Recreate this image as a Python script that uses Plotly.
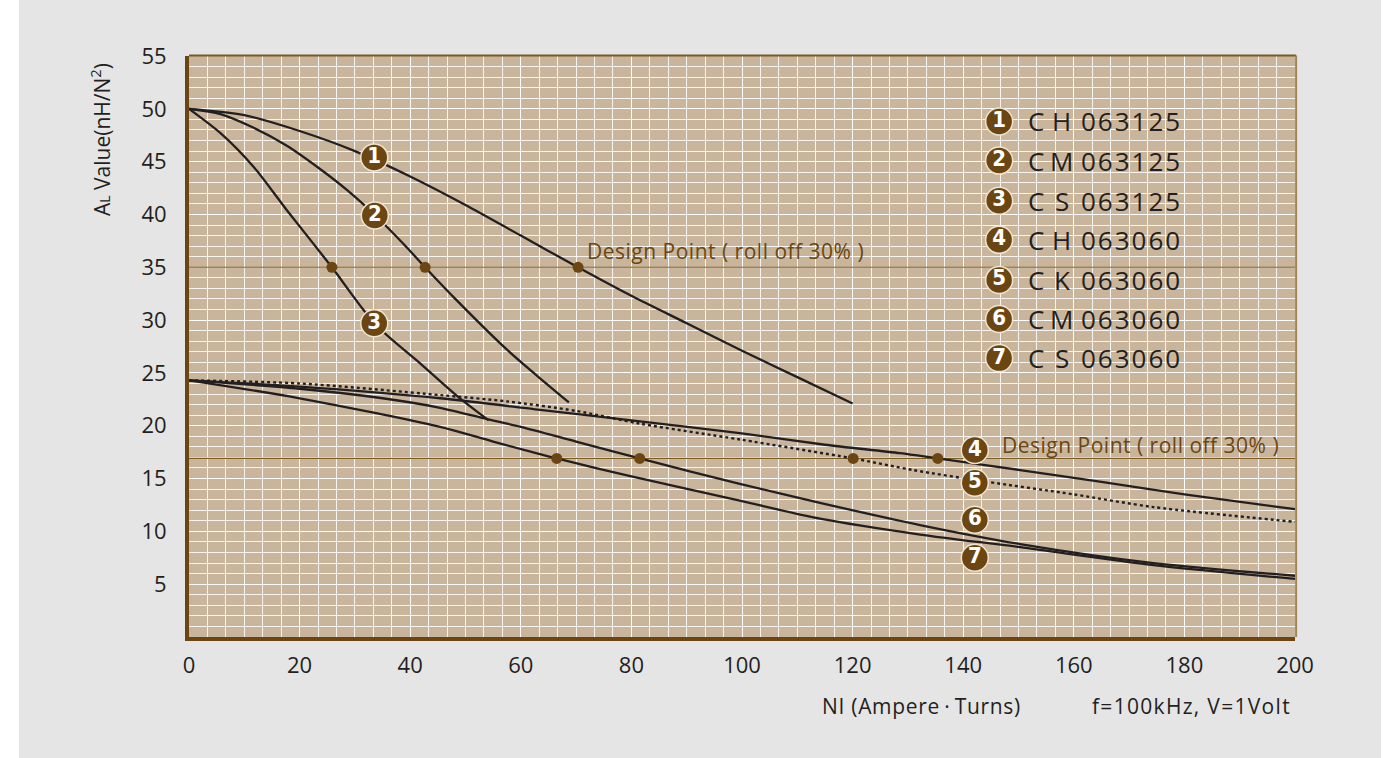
import numpy as np
import plotly.graph_objects as go

# ---------------- data ----------------
c1_x = [0, 10, 20, 30, 40, 50, 60, 70, 80, 90, 100, 110, 120]
c1_y = [50, 49.4, 47.9, 46.0, 43.6, 40.9, 38.0, 35.1, 32.3, 29.7, 27.1, 24.6, 22.1]

c2_x = [0, 5.7, 11.7, 17.7, 23.7, 28.6, 33.7, 38.8, 42.7, 47.8, 57.5, 63, 68.7]
c2_y = [50, 49.5, 48.2, 46.5, 44.3, 42.3, 39.9, 37.2, 35.0, 32.2, 27.2, 24.7, 22.2]

c3_x = [0, 5.7, 11.7, 17.7, 25.7, 33.7, 41.8, 48.5, 54.2]
c3_y = [50, 47.7, 44.5, 40.4, 35.1, 29.6, 25.9, 22.8, 20.5]

c4_x = [0, 20, 45.4, 63.5, 80, 99.6, 115, 128.6, 135.4, 150.3, 164.7, 180, 200]
c4_y = [24.3, 23.7, 22.6, 21.5, 20.5, 19.3, 18.2, 17.4, 16.9, 15.8, 14.7, 13.5, 12.1]

c5_x = [0, 20, 45.4, 57.5, 70, 81.5, 99.6, 120.1, 131, 144.2, 160, 174.4, 200]
c5_y = [24.3, 24.0, 22.9, 22.3, 21.4, 20.2, 18.7, 16.9, 15.8, 14.7, 13.5, 12.3, 10.9]

c6_x = [0, 20, 35, 45.4, 54.1, 60, 70, 81.5, 99.6, 114.1, 132.2, 150.3, 174.4, 200]
c6_y = [24.3, 23.5, 22.6, 21.7, 20.6, 19.9, 18.5, 16.9, 14.5, 12.7, 10.6, 8.8, 7.0, 5.8]

c7_x = [0, 20, 45.4, 55, 66.5, 80, 99.6, 114.1, 132.2, 150.3, 174.4, 200]
c7_y = [24.3, 22.6, 19.9, 18.5, 16.9, 15.2, 12.9, 11.2, 9.7, 8.5, 6.8, 5.5]

curve_prefix = ["C", "C", "C", "C", "C", "C", "C"]
curve_letter = ["H", "M", "S", "H", "K", "M", "S"]
curve_code = ["063125", "063125", "063125", "063060", "063060", "063060", "063060"]
curve_nums = ["1", "2", "3", "4", "5", "6", "7"]
curve_dash = ["solid", "solid", "solid", "solid", "dot", "solid", "solid"]

# label bubbles placed on the curves
label_x = [33.5, 33.6, 33.5, 142.1, 142.1, 142.1, 142.1]
label_y = [45.4, 39.9, 29.7, 17.7, 14.6, 11.1, 7.5]

# legend (key) bubbles and text columns
key_x = [146.5] * 7
key_y = [48.8, 45.1, 41.3, 37.6, 33.8, 30.1, 26.4]
key_prefix_x = 153.2
key_letter_x = 157.8
key_code_x = 160.9

design_levels = [35.0, 16.9]           # roll off 30%
design_groups = [[0, 1, 2], [3, 4, 5, 6]]
design_text = "Design Point ( roll off 30% )"
design_text_pos = [(71.6, 36.5), (146.6, 18.2)]

x_ticks = [0, 20, 40, 60, 80, 100, 120, 140, 160, 180, 200]
x_ticklabels = [str(v) for v in x_ticks]
y_ticks = [5, 10, 15, 20, 25, 30, 35, 40, 45, 50, 55]
y_ticklabels = [str(v) for v in y_ticks]

# ---------------- style ----------------
BROWN = "#6b4612"
LINE_BROWN = "#7d5d22"
INK = "#231f20"
FONT = "Open Sans, Noto Sans, sans-serif"
NUMFONT = "Liberation Sans Narrow, DejaVu Sans Condensed, DejaVu Sans, sans-serif"
GRID = "rgba(255,255,255,0.85)"

W, H = 1399, 758
ML, MR, MT, MB = 189, 104, 56, 121
PW, PH = W - ML - MR, H - MT - MB


def px_x(p):
    return (p - ML) / PW


def px_y(p):
    return (H - MB - p) / PH


curves = [(c1_x, c1_y), (c2_x, c2_y), (c3_x, c3_y), (c4_x, c4_y),
          (c5_x, c5_y), (c6_x, c6_y), (c7_x, c7_y)]

fig = go.Figure()

for lvl in design_levels:
    fig.add_trace(go.Scatter(x=[0, 200], y=[lvl, lvl], mode="lines",
                             line=dict(color=LINE_BROWN, width=1.2),
                             hoverinfo="skip", showlegend=False))

for (cx, cy), dash, l, c in zip(curves, curve_dash, curve_letter, curve_code):
    fig.add_trace(go.Scatter(x=cx, y=cy, mode="lines", name=f"C{l}{c}",
                             line=dict(color=INK, width=2.3 if dash == "solid" else 2.4,
                                       dash=dash, shape="spline", smoothing=0.8),
                             showlegend=False))

dp_x, dp_y = [], []
for lvl, grp in zip(design_levels, design_groups):
    for i in grp:
        cx, cy = curves[i]
        xs = np.interp(lvl, np.array(cy)[::-1], np.array(cx)[::-1])
        dp_x.append(float(xs))
        dp_y.append(lvl)
fig.add_trace(go.Scatter(x=dp_x, y=dp_y, mode="markers",
                         marker=dict(color=BROWN, size=11),
                         hoverinfo="skip", showlegend=False))

bubble = dict(color=BROWN, size=27, line=dict(color="#efe4cf", width=1.5))
numfont = dict(family=NUMFONT, size=22, color="white", weight="bold")
fig.add_trace(go.Scatter(x=label_x, y=label_y, mode="markers+text", text=curve_nums,
                         textposition="middle center", marker=bubble, textfont=numfont,
                         hoverinfo="skip", showlegend=False))
fig.add_trace(go.Scatter(x=key_x, y=key_y, mode="markers+text", text=curve_nums,
                         textposition="middle center", marker=bubble, textfont=numfont,
                         hoverinfo="skip", showlegend=False))

annotations = []
keyfont = dict(family=FONT, size=26, color=INK)
for p, l, c, ky in zip(curve_prefix, curve_letter, curve_code, key_y):
    annotations.append(dict(x=key_prefix_x, y=ky, xref="x", yref="y", showarrow=False,
                            xanchor="center", yanchor="middle", text=p, font=keyfont))
    annotations.append(dict(x=key_letter_x, y=ky, xref="x", yref="y", showarrow=False,
                            xanchor="center", yanchor="middle", text=l, font=keyfont))
    annotations.append(dict(x=key_code_x, y=ky, xref="x", yref="y", showarrow=False,
                            xanchor="left", yanchor="middle",
                            text=f'<span style="letter-spacing:2px">{c}</span>', font=keyfont))
for (tx, ty) in design_text_pos:
    annotations.append(dict(x=tx, y=ty, xref="x", yref="y", showarrow=False,
                            xanchor="left", yanchor="middle",
                            text=f'<span style="letter-spacing:0.5px">{design_text}</span>',
                            font=dict(family=FONT, size=21, color=BROWN)))

annotations.append(dict(x=px_x(100), y=px_y(140), xref="paper", yref="paper", showarrow=False,
                        textangle=-90, xanchor="center", yanchor="middle",
                        text='A<span style="font-size:14px">L</span> Value(nH/N<sup>2</sup>)',
                        font=dict(family=FONT, size=21, color=INK)))
annotations.append(dict(x=px_x(921), y=px_y(706), xref="paper", yref="paper",
                        showarrow=False, xanchor="center", yanchor="middle",
                        text='<span style="letter-spacing:0.7px">NI (Ampere\u2009\u00b7\u2009Turns)</span>',
                        font=dict(family=FONT, size=21, color=INK)))
annotations.append(dict(x=px_x(1191), y=px_y(706), xref="paper", yref="paper",
                        showarrow=False, xanchor="center", yanchor="middle",
                        text='<span style="letter-spacing:1.3px">f=100kHz, V=1Volt</span>',
                        font=dict(family=FONT, size=21, color=INK)))

shapes = [
    dict(type="rect", xref="paper", yref="paper", x0=px_x(-20), x1=px_x(19),
         y0=px_y(800), y1=px_y(-20), fillcolor="white", line=dict(width=0), layer="below"),
    dict(type="rect", xref="paper", yref="paper", x0=px_x(1381), x1=px_x(1420),
         y0=px_y(800), y1=px_y(-20), fillcolor="white", line=dict(width=0), layer="below"),
    dict(type="line", xref="paper", yref="paper", x0=0, x1=1.001, y0=1.001, y1=1.001,
         line=dict(color="#7a5a22", width=2)),
    dict(type="line", xref="paper", yref="paper", x0=1.001, x1=1.001, y0=0, y1=1.001,
         line=dict(color="#a08456", width=2)),
]

fig.update_layout(
    width=W, height=H, autosize=False,
    margin=dict(l=ML, r=MR, t=MT, b=MB),
    paper_bgcolor="#e5e5e5", plot_bgcolor="#c9b59b",
    showlegend=False,
    annotations=annotations, shapes=shapes,
    font=dict(family=FONT, color=INK),
)
fig.update_xaxes(range=[0, 200], tickvals=x_ticks, ticktext=x_ticklabels,
                 showgrid=True, gridcolor=GRID, gridwidth=1.2,
                 minor=dict(dtick=10 / 3, tick0=0, showgrid=True, gridcolor=GRID, gridwidth=1.2),
                 zeroline=False, showline=True, linecolor=BROWN, linewidth=4,
                 ticks="", ticklabelstandoff=6,
                 tickfont=dict(family=FONT, size=22, color=INK))
fig.update_yaxes(range=[0, 55], tickvals=y_ticks, ticktext=y_ticklabels,
                 showgrid=True, gridcolor=GRID, gridwidth=1.2,
                 minor=dict(dtick=1, tick0=0, showgrid=True, gridcolor=GRID, gridwidth=1.2),
                 zeroline=False, showline=True, linecolor=BROWN, linewidth=4,
                 ticks="", ticklabelstandoff=14,
                 tickfont=dict(family=FONT, size=22, color=INK))

fig.write_html("out.html", config={"displayModeBar": False},
               post_script="document.body.style.margin='0px';document.body.style.overflow='hidden';")
